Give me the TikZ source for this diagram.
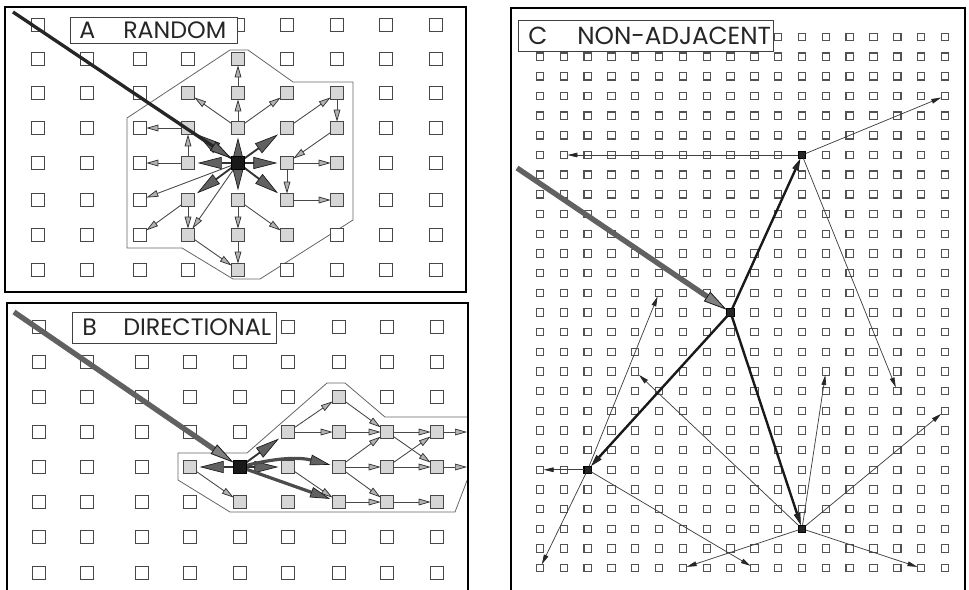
\documentclass[tikz,border=0pt]{standalone}
\usepackage{fontspec}
\newfontfamily\labfont{Poppins}
\usetikzlibrary{arrows.meta}
\begin{document}
\begin{tikzpicture}[x=0.75pt,y=-0.75pt,
  sq/.style={draw=black!72, fill=white, line width=0.85pt, minimum size=9.5pt, inner sep=0pt, outer sep=0pt},
  gsq/.style={sq, fill=black!16},
  bsq/.style={sq, fill=black!90, draw=black},
  csq/.style={draw=black!68, fill=white, line width=0.8pt, minimum size=5.5pt, inner sep=0pt, outer sep=0pt},
  cdark/.style={csq, fill=black!85, draw=black},
  frame/.style={draw=black, line width=2.2pt},
  zone/.style={draw=black!60, line width=0.6pt},
  labbox/.style={draw=black!75, fill=white, line width=0.7pt},
  labtext/.style={inner sep=0pt, anchor=west, font=\labfont\fontsize{17.8}{17.8}\selectfont, text=black!85},
  labtextC/.style={labtext, font=\labfont\fontsize{18.5}{18.5}\selectfont},
  tarr/.style={draw=black!72, line width=0.65pt, -{Triangle[length=9pt,width=5pt,fill=black!30,color=black!80,line width=0.55pt]}},
  dark/.style={draw=black!80, line width=1.4pt, shorten >=2.5pt, -{Triangle[length=18pt,width=9pt,fill=black!62,color=black!90,line width=0.5pt]}},
  darkw/.style={draw=black!70, line width=2.4pt, shorten >=2pt, -{Triangle[length=15pt,width=8pt,fill=black!62,color=black!90,line width=0.5pt]}},
  cthin/.style={draw=black!75, line width=0.55pt, -{Triangle[length=7.5pt,width=3.5pt,fill=black!85,color=black!85]}},
  cthick/.style={draw=black!90, line width=1.8pt, -{Triangle[length=9pt,width=5pt,fill=black!85,color=black!90,line width=0.5pt]}},
  incoming/.style={draw=black!62, line width=4pt, -{Triangle[length=18pt,width=8.5pt,fill=black!50,color=black!90,line width=0.6pt]}},
  incomingA/.style={draw=black!85, line width=2.5pt, -{Triangle[length=17pt,width=8pt,fill=black!62,color=black!90,line width=0.6pt]}},
]
\useasboundingbox (0,0) rectangle (969,589);
\clip (0,0) rectangle (969,589);
\fill[white] (0,0) rectangle (969,589);

% ---------------- Panel A ----------------
\draw[zone] (230,50) -- (248,50) -- (293,82) -- (353,82) -- (353,220) -- (260,279) -- (233,279) -- (182,248) -- (127,248) -- (127,118) -- cycle;
\foreach \x [count=\i from 0] in {38,87,140,188,238,287,337,386,436}
  \foreach \y [count=\j from 0] in {25,59,93,128,163,200,235,270}
    \node[sq] (A-\i-\j) at (\x,\y) {};
\foreach \p in {4-1,3-2,4-2,5-2,6-2,3-3,4-3,5-3,6-3,3-4,5-4,6-4,3-5,4-5,5-5,6-5,3-6,4-6,5-6,4-7}
  \node[gsq] (A-\p) at (A-\p) {};
\draw[tarr] (A-4-3) -- (A-4-2);
\draw[tarr] (A-4-2) -- (A-4-1);
\draw[tarr] (A-4-3) -- (A-3-2);
\draw[tarr] (A-4-3) -- (A-5-2);
\draw[tarr] (A-5-3) -- (A-6-2);
\draw[tarr] (A-6-2) -- (A-6-3);
\draw[tarr] (A-6-3) -- (A-5-4);
\draw[tarr] (A-5-4) -- (A-6-4);
\draw[tarr] (A-5-5) -- (A-6-5);
\draw[tarr] (A-5-4) -- (A-5-5);
\draw[tarr] (A-3-4) -- (A-3-3);
\draw[tarr] (A-3-3) -- (A-2-3);
\draw[tarr] (A-3-4) -- (A-2-4);
\draw[tarr] (A-4-4) -- (A-2-5);
\draw[tarr] (A-3-5) -- (A-2-6);
\draw[tarr] (A-3-5) -- (A-3-6);
\draw[tarr] (A-4-4) -- (A-3-6);
\draw[tarr] (A-4-5) -- (A-4-6);
\draw[tarr] (A-4-6) -- (A-4-7);
\draw[tarr] (A-4-5) -- (A-5-6);
\draw[tarr] (A-3-6) -- (A-4-7);
\foreach \t in {4-3,5-3,5-4,5-5,4-5,3-5,3-4,3-3}
  \draw[dark] (A-4-4) -- (A-\t);
\node[bsq] (A-4-4) at (A-4-4) {};
\coordinate (inA) at (13,12);
\draw[incomingA] (inA) -- (A-4-4);
\draw[labbox] (70,17) rectangle (237,43);
\node[labtext] (labA1) at (79,30.5) {A};
\node[labtext] (labA2) at (123,30.5) {RANDOM};
\draw[frame] (5,7) rectangle (466,292);

% ---------------- Panel B ----------------
\draw[zone] (178,453) -- (247,453) -- (327,383) -- (345,383) -- (385,417) -- (468,417) -- (468,478) -- (455,512) -- (230,512) -- (178,480) -- cycle;
\foreach \x [count=\i from 0] in {39,87,142,190,240,288,339,387,437}
  \foreach \y [count=\j from 0] in {327,362,397,432,467,502,537,573}
    \node[sq] (B-\i-\j) at (\x,\y) {};
\foreach \p in {6-2,5-3,6-3,7-3,8-3,3-4,5-4,6-4,7-4,8-4,4-5,5-5,6-5,7-5,8-5}
  \node[gsq] (B-\p) at (B-\p) {};
\coordinate (eB1) at (467,432);
\coordinate (eB2) at (467,467);
\draw[tarr] (B-3-4) -- (B-4-5);
\draw[tarr] (B-5-3) -- (B-6-2);
\draw[tarr] (B-5-3) -- (B-6-3);
\draw[tarr] (B-6-2) -- (B-7-3);
\draw[tarr] (B-6-3) -- (B-7-3);
\draw[tarr] (B-7-3) -- (B-8-3);
\draw[tarr] (B-8-3) -- (eB1);
\draw[tarr] (B-6-4) -- (B-7-3);
\draw[tarr] (B-6-4) -- (B-7-4);
\draw[tarr] (B-7-4) -- (B-8-4);
\draw[tarr] (B-8-4) -- (eB2);
\draw[tarr] (B-7-3) -- (B-8-4);
\draw[tarr] (B-7-4) -- (B-8-3);
\draw[tarr] (B-5-4) -- (B-6-5);
\draw[tarr] (B-6-4) -- (B-7-5);
\draw[tarr] (B-6-5) -- (B-7-5);
\draw[tarr] (B-7-5) -- (B-8-5);
\draw[dark] (B-4-4) -- (B-3-4);
\draw[dark] (B-4-4) -- (B-5-4);
\draw[dark] (B-4-4) -- (B-5-3);
\draw[darkw] (B-4-4) to[bend left=14] (B-6-4);
\draw[darkw] (B-4-4) -- (B-6-5);
\node[bsq] (B-4-4) at (B-4-4) {};
\coordinate (inB) at (14,312);
\draw[incoming] (inB) -- (B-4-4);
\draw[labbox] (72,312) rectangle (276,343);
\node[labtext] (labB1) at (82,327.5) {B};
\node[labtext] (labB2) at (123,327.5) {DIRECTIONAL};
\draw[frame] (7,303) rectangle (468,600);

% ---------------- Panel C ----------------
\foreach \i in {0,...,17}
  \foreach \j in {0,...,27}
    \node[csq] (C-\i-\j) at ({540+23.82*\i},{37+19.67*\j}) {};
\node[cdark] (N1) at (C-11-6) {};
\node[cdark] (N2) at (C-8-14) {};
\node[cdark] (N3) at (C-2-22) {};
\node[cdark] (N4) at (C-11-25) {};
\draw[cthin] (N1) -- (C-1-6);
\draw[cthin] (N1) -- (C-17-3);
\draw[cthin] (N1) -- (C-15-18);
\draw[cthin] (N3) -- (C-0-22);
\draw[cthin] (N3) -- (C-0-27);
\draw[cthin] (N3) -- (C-5-13);
\draw[cthin] (N3) -- (C-9-27);
\draw[cthin] (N4) -- (C-4-17);
\draw[cthin] (N4) -- (C-12-17);
\draw[cthin] (N4) -- (C-17-19);
\draw[cthin] (N4) -- (C-6-27);
\draw[cthin] (N4) -- (C-16-27);
\draw[cthick] (N2) -- (N1);
\draw[cthick] (N2) -- (N3);
\draw[cthick] (N2) -- (N4);
\coordinate (inC) at (517,168);
\draw[incoming] (inC) -- (N2);
\draw[labbox] (518,20) rectangle (773,51);
\node[labtextC] (labC1) at (528,35.5) {C};
\node[labtextC] (labC2) at (577,35.5) {NON-ADJACENT};
\draw[frame] (511,8) rectangle (965,600);
\end{tikzpicture}
\end{document}
